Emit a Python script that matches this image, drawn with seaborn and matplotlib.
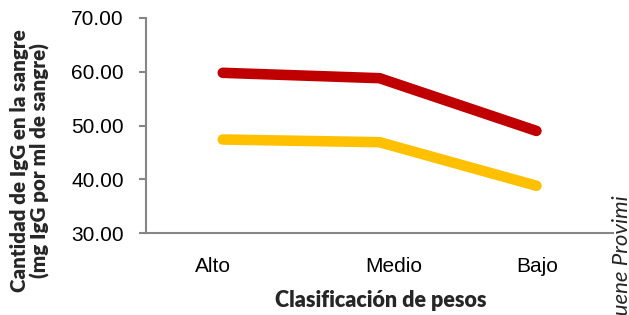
import pandas as pd
import matplotlib
matplotlib.use('Agg')
import matplotlib.pyplot as plt
import matplotlib.transforms as mtransforms
import seaborn as sns

# Data
categorias = ['Alto', 'Medio', 'Bajo']
serie_roja = [59.8, 58.8, 49.0]
serie_amarilla = [47.4, 46.9, 38.8]
y_ticks = [30, 40, 50, 60, 70]

df = pd.DataFrame({
    'Clasificacion': categorias * 2,
    'IgG': serie_roja + serie_amarilla,
    'Serie': ['Serie 1'] * 3 + ['Serie 2'] * 3,
})

sns.set_style("white")
plt.rcParams['font.family'] = ['Liberation Sans', 'DejaVu Sans']

fig = plt.figure(figsize=(6.29, 3.15), dpi=100)
ax = fig.add_axes([0.232, 0.26, 0.743, 0.683])

palette = {'Serie 1': '#C00000', 'Serie 2': '#FFC000'}
sns.lineplot(data=df, x='Clasificacion', y='IgG', hue='Serie', palette=palette,
             linewidth=7.6, legend=False, sort=False, ax=ax,
             solid_capstyle='round', solid_joinstyle='round')

ax.set_ylim(30, 70)
ax.set_yticks(y_ticks)
ax.set_yticklabels([f'{v:.2f}' for v in y_ticks])
ax.set_xlim(-0.49, 2.49)

for s in ['top', 'right']:
    ax.spines[s].set_visible(False)
for s in ['left', 'bottom']:
    ax.spines[s].set_color('#868686')
    ax.spines[s].set_linewidth(1.5)

ax.tick_params(axis='y', length=5, width=1.5, color='#868686', pad=11,
               labelsize=15, labelcolor='black', left=True, direction='out')
ax.tick_params(axis='x', length=0, pad=17, labelsize=15, labelcolor='black')

# Excel places the category labels slightly off the data points
shifts = [-10, 14, 1]
for lab, dx in zip(ax.get_xticklabels(), shifts):
    lab.set_transform(lab.get_transform() + mtransforms.ScaledTranslation(dx / 100, 0, fig.dpi_scale_trans))

ax.set_xlabel('')
ax.set_ylabel('')

fig.text(0.605, 0.045, 'Clasificación de pesos', ha='center', va='center',
         fontsize=15.5, fontweight='heavy', family=['Lato', 'DejaVu Sans'])
fig.text(0.048, 1 - 161 / 315, 'Cantidad de IgG en la sangre\n(mg IgG por ml de sangre)',
         rotation=90, ha='center', va='center', multialignment='center',
         fontsize=14.8, fontweight='heavy', family=['Lato', 'DejaVu Sans'],
         linespacing=1.05)
fig.text(0.989, 1 - 195 / 315, 'Fuene Provimi', rotation=90, ha='center', va='top',
         fontsize=16, style='italic', family=['Lato', 'DejaVu Sans'])

fig.savefig('out.png', dpi=100)
